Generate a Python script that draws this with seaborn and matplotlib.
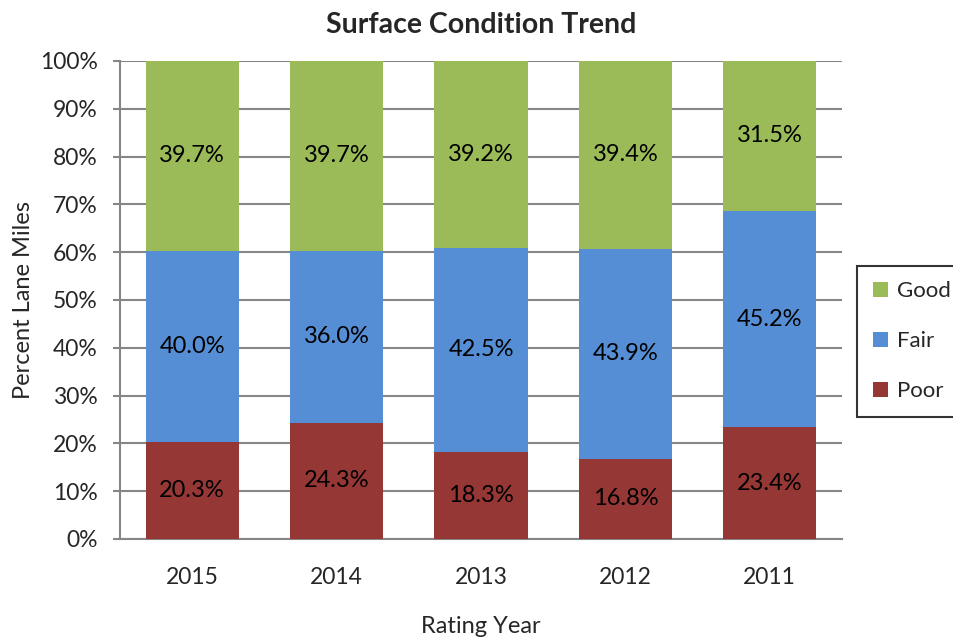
import numpy as np
import pandas as pd
import seaborn as sns
import matplotlib.pyplot as plt

# data
years = ['2015', '2014', '2013', '2012', '2011']
poor = [20.3, 24.3, 18.3, 16.8, 23.4]
fair = [40.0, 36.0, 42.5, 43.9, 45.2]
good = [39.7, 39.7, 39.2, 39.4, 31.5]

colors = {'Good': '#9BBB59', 'Fair': '#558ED5', 'Poor': '#953735'}
grid_col = '#868686'

sns.set_theme(style='white')
plt.rcParams['font.family'] = ['Lato', 'DejaVu Sans']

# cumulative tops so the layers overlap into a stack
df = pd.DataFrame({'year': years, 'Poor': poor, 'Fair': fair, 'Good': good})
df['top_poor'] = df['Poor']
df['top_fair'] = df['Poor'] + df['Fair']
df['top_good'] = df['top_fair'] + df['Good']

fig = plt.figure(figsize=(9.54, 6.38), dpi=100)
ax = fig.add_axes([0.1258, 0.1552, 0.7568, 0.7492])

for col, name in [('top_good', 'Good'), ('top_fair', 'Fair'), ('top_poor', 'Poor')]:
    sns.barplot(ax=ax, data=df, x='year', y=col, color=colors[name], width=0.645,
                saturation=1, label=name, zorder=3, linewidth=0)

# segment labels, centred in each segment
for i in range(len(years)):
    bottoms = [0, poor[i], poor[i] + fair[i]]
    for b, v in zip(bottoms, [poor[i], fair[i], good[i]]):
        ax.text(i, b + v / 2, f'{v:.1f}%', ha='center', va='center',
                fontsize=17, color='black', zorder=4)

ax.set_ylim(0, 100)
ax.set_xlim(-0.5, 4.5)
ax.set_yticks(np.arange(0, 101, 10))
ax.set_yticklabels([f'{t}%' for t in range(0, 101, 10)], fontsize=16.5)
ax.tick_params(axis='x', labelsize=16.5, pad=20, length=0)
ax.tick_params(axis='y', length=5, width=1.5, color=grid_col, direction='out', pad=11, left=True)
ax.yaxis.grid(True, color=grid_col, linewidth=1.5, zorder=0)
ax.set_axisbelow(True)

for s in ['top', 'right']:
    ax.spines[s].set_visible(False)
for s in ['left', 'bottom']:
    ax.spines[s].set_color(grid_col)
    ax.spines[s].set_linewidth(1.5)

ax.set_xlabel('Rating Year', fontsize=17, labelpad=20)
ax.set_ylabel('Percent Lane Miles', fontsize=17, labelpad=4)
ax.set_title('Surface Condition Trend', fontsize=20.5, fontweight='bold', pad=20)

handles, labels = ax.get_legend_handles_labels()
leg = ax.legend(handles, labels, loc='center left', bbox_to_anchor=(1.021, 0.414),
                fontsize=16, frameon=True, fancybox=False, edgecolor='black',
                handlelength=0.7, handleheight=0.7, labelspacing=1.35,
                handletextpad=0.4, borderpad=0.7, borderaxespad=0)
leg.get_frame().set_linewidth(1.5)

fig.savefig('out.png', dpi=100)
